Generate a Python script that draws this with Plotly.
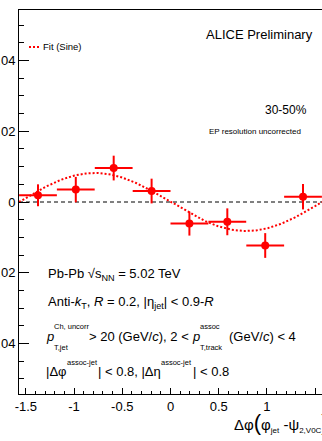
import numpy as np
import plotly.graph_objects as go

# Jet-hadron yield modulation vs. angle to the event plane (30-50%)
dphi_centers = [-1.374, -0.982, -0.589, -0.196, 0.196, 0.589, 0.982, 1.374]
dphi_halfwidth = [0.196, 0.196, 0.196, 0.196, 0.196, 0.196, 0.196, 0.196]
yield_mod = [0.0019, 0.0035, 0.0096, 0.0031, -0.0061, -0.0056, -0.0123, 0.0015]
yield_err = [0.0031, 0.0036, 0.0035, 0.0035, 0.0034, 0.0038, 0.0035, 0.0036]

x_tick_vals = [-1.5, -1, -0.5, 0, 0.5, 1, 1.5]
x_tick_text = ["-1.5", "-1", "-0.5", "0", "0.5", "1", "1.5"]
y_tick_vals = [-0.04, -0.02, 0, 0.02, 0.04]
y_tick_text = ["-0.04", "-0.02", "0", "0.02", "0.04"]

RED = "#ff0000"
FONT = "Liberation Sans, Arial, sans-serif"

W, H = 322, 441
ML, MR, MT, MB = 19, 0, 10, 47
PW, PH = W - ML - MR, H - MT - MB

# Weighted least-squares fit of A*sin(2*dphi)
xc = np.array(dphi_centers)
yv = np.array(yield_mod)
w = 1.0 / np.array(yield_err) ** 2
s = np.sin(2 * xc)
amp = np.sum(w * yv * s) / np.sum(w * s * s)
xf = np.linspace(-np.pi / 2, np.pi / 2, 300)
yf = amp * np.sin(2 * xf)

fig = go.Figure()
fig.add_trace(go.Scatter(
    x=xf, y=yf, mode="lines",
    line=dict(color=RED, width=2, dash="2px,2px"),
    showlegend=False, hoverinfo="skip",
))
fig.add_trace(go.Scatter(
    x=dphi_centers, y=yield_mod, mode="markers",
    marker=dict(color=RED, size=8, symbol="circle"),
    error_x=dict(type="data", array=dphi_halfwidth, color=RED, thickness=2, width=0),
    error_y=dict(type="data", array=yield_err, color=RED, thickness=2, width=0),
    showlegend=False,
))

# dashed zero line
fig.add_shape(type="line", xref="paper", yref="y", x0=0, x1=1, y0=0, y1=0,
              line=dict(color="black", width=1, dash="4px,3px"), layer="below")


def px(x):
    return (x - ML) / PW


def py(y):
    return (MT + PH - y) / PH


def txt(x, y, text, size, anchor="left"):
    fig.add_annotation(
        x=px(x), y=py(y), xref="paper", yref="paper", text=text,
        showarrow=False, xanchor=anchor, yanchor="middle",
        font=dict(family=FONT, size=size, color="black"),
    )


# legend entry
fig.add_shape(type="line", xref="paper", yref="paper",
              x0=px(29), x1=px(39), y0=py(47), y1=py(47),
              line=dict(color=RED, width=2, dash="2px,2px"))
txt(41, 47, "Fit (Sine)", 9.5)

txt(204, 34, "ALICE Preliminary", 13)
txt(263, 110, "30-50%", 12)
txt(207, 131, "EP resolution uncorrected", 8)

MAIN = 13
SUB = 7.5
txt(46, 274, "Pb-Pb √s<sub>NN</sub> = 5.02 TeV", MAIN)
txt(46, 302, "Anti-<i>k</i><sub>T</sub>, <i>R</i> = 0.2, |η<sub>jet</sub>| < 0.9-<i>R</i>", MAIN)

# line with stacked sub/superscripts
txt(44, 336, "<i>p</i>", MAIN)
txt(52, 347, "T,jet", SUB)
txt(52, 326, "Ch, uncorr", SUB)
txt(87, 336, "> 20 (GeV/<i>c</i>), 2 <", MAIN)
txt(190, 336, "<i>p</i>", MAIN)
txt(198, 347, "T,track", SUB)
txt(198, 326, "assoc", SUB)
txt(227, 336, "(GeV/<i>c</i>) < 4", MAIN)

txt(44, 371, "|Δφ", MAIN)
txt(65, 362, "assoc-jet", SUB)
txt(96, 371, "| < 0.8, |Δη", MAIN)
txt(159, 362, "assoc-jet", SUB)
txt(191, 371, "| < 0.8", MAIN)

# x-axis title
txt(232, 422,
    "Δφ<span style='font-size:22px'>(</span>φ<sub><span style='font-size:8px'>jet</span></sub>"
    " -ψ<sub><span style='font-size:8px'>2,V0C</span></sub>"
    "<span style='font-size:22px'>)</span>", 15)

axis_font = dict(family=FONT, size=13, color="black")
fig.update_layout(
    width=W, height=H,
    margin=dict(l=ML, r=MR, t=MT, b=MB),
    paper_bgcolor="white", plot_bgcolor="white",
    showlegend=False,
    xaxis=dict(
        range=[-np.pi / 2, np.pi / 2], automargin=False,
        tickvals=x_tick_vals, ticktext=x_tick_text,
        ticks="inside", ticklen=6, tickwidth=1, tickcolor="black",
        minor=dict(dtick=0.1, tick0=0, ticks="inside", ticklen=3, tickcolor="black"),
        showline=True, linecolor="black", linewidth=1, mirror=True,
        showgrid=False, zeroline=False, tickfont=axis_font,
    ),
    yaxis=dict(
        range=[-0.0543, 0.0543], automargin=False,
        tickvals=y_tick_vals, ticktext=y_tick_text,
        ticks="inside", ticklen=10, tickwidth=1, tickcolor="black",
        minor=dict(dtick=0.005, tick0=0, ticks="inside", ticklen=5, tickcolor="black"),
        showline=True, linecolor="black", linewidth=1, mirror=False,
        showgrid=False, zeroline=False, tickfont=axis_font,
    ),
)

fig.write_html("out.html")
